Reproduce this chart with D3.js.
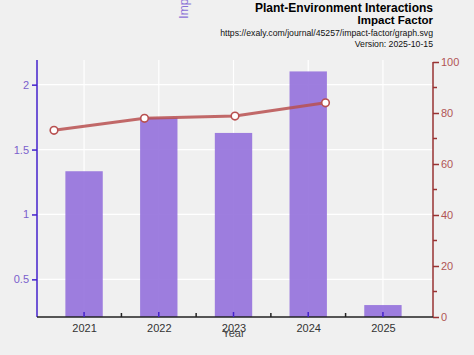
<!DOCTYPE html>
<html><head><meta charset="utf-8">
<script src="https://cdn.jsdelivr.net/npm/d3@7"></script>
<style>body{margin:0;background:#f0f0f0;}svg{display:block;font-family:"Liberation Sans",Arial,sans-serif;}</style>
</head><body>
<svg id="c" width="474" height="355"></svg>
<script>
const years = [2021, 2022, 2023, 2024, 2025];
const impactFactor = [1.333, 1.745, 1.628, 2.102, 0.302];
const lineYears = [2021, 2022, 2023, 2024];
const percentile = [73.2, 77.9, 78.8, 84.0];
const leftTicks = [0.5, 1, 1.5, 2];
const rightTicks = [0, 20, 40, 60, 80, 100];

const svg = d3.select("#c");
svg.append("rect").attr("width",474).attr("height",355).attr("fill","#f0f0f0");

const L=37, R=433, T=60, B=317;
const x = d3.scaleLinear().domain([2020.37, 2025.67]).range([L, R]);
const xLine = d3.scalePoint().domain([2021,2022,2023,2024,2025]).range([54, 416]);
const y = d3.scaleLinear().domain([0.21, 2.19]).range([B, T]);
const y2 = d3.scaleLinear().domain([0, 100]).range([B, 62]);

// grid
const g = svg.append("g");
g.selectAll(".hg").data(leftTicks).join("line")
  .attr("x1",L).attr("x2",R).attr("y1",d=>y(d)).attr("y2",d=>y(d))
  .attr("stroke","#ffffff").attr("stroke-width",1.2);
g.selectAll(".vg").data(years).join("line")
  .attr("x1",d=>x(d)).attr("x2",d=>x(d)).attr("y1",T).attr("y2",B)
  .attr("stroke","#ffffff").attr("stroke-width",1.2);

// bars
const bw = (x(2022)-x(2021))/2;
svg.selectAll(".bar").data(years).join("rect")
  .attr("x",(d)=>x(d)-bw/2).attr("width",bw)
  .attr("y",(d,i)=>y(impactFactor[i])).attr("height",(d,i)=>B-y(impactFactor[i]))
  .attr("fill","#9370db").attr("fill-opacity",0.9);

// line
const pts = lineYears.map((d,i)=>[xLine(d), y2(percentile[i])]);
svg.append("path").attr("d",d3.line()(pts)).attr("fill","none")
  .attr("stroke","#b85050").attr("stroke-opacity",0.85).attr("stroke-width",3);
svg.selectAll(".pt").data(pts).join("circle")
  .attr("cx",d=>d[0]).attr("cy",d=>d[1]).attr("r",3.8)
  .attr("fill","#fff").attr("stroke","#b85050").attr("stroke-width",1.6);

// left axis
const ga = svg.append("g").attr("transform",`translate(${L},0)`)
  .call(d3.axisLeft(y).tickValues(leftTicks).tickSize(5).tickPadding(3).tickFormat(d3.format("")));
ga.select(".domain").attr("stroke","#4422cc").attr("stroke-width",1.5).attr("d",`M0,${T}V${B}`);
ga.selectAll(".tick line").attr("stroke","#4422cc").attr("stroke-width",1.5);
ga.selectAll(".tick text").attr("fill","#7a5fcc").attr("font-size",11);

// right axis
const gr = svg.append("g").attr("transform",`translate(${R},0)`)
  .call(d3.axisRight(y2).tickValues(rightTicks).tickSize(6).tickPadding(2));
gr.select(".domain").attr("stroke","#993333").attr("stroke-width",1.5).attr("d",`M0,62V${B}`);
gr.selectAll(".tick line").attr("stroke","#993333").attr("stroke-width",1.5);
gr.selectAll(".tick text").attr("fill","#b05555").attr("font-size",11);
gr.selectAll(".minor").data([10,30,50,70,90]).join("line")
  .attr("x1",0).attr("x2",4).attr("y1",d=>y2(d)).attr("y2",d=>y2(d))
  .attr("stroke","#993333").attr("stroke-width",1.5);

// bottom axis
const gb = svg.append("g").attr("transform",`translate(0,${B})`)
  .call(d3.axisBottom(x).tickValues(years).tickSize(0).tickPadding(7).tickFormat(d3.format("d")));
gb.select(".domain").attr("stroke","#222").attr("stroke-width",1.5).attr("d",`M${L},0H${R}`);
gb.selectAll(".tick text").attr("fill","#333").attr("font-size",11);
gb.selectAll(".maj").data(years).join("line")
  .attr("x1",d=>x(d)).attr("x2",d=>x(d)).attr("y1",0).attr("y2",-5)
  .attr("stroke","#4422cc").attr("stroke-width",1.5);
gb.selectAll(".mn").data([2021.5,2022.5,2023.5,2024.5]).join("line")
  .attr("x1",d=>x(d)).attr("x2",d=>x(d)).attr("y1",0).attr("y2",-4)
  .attr("stroke","#222").attr("stroke-width",1.5);

// axis titles
svg.append("text").attr("x",x(2023)).attr("y",337).attr("text-anchor","middle")
  .attr("font-size",11).attr("fill","#444").text("Year");
svg.append("text").attr("transform","translate(188,-18) rotate(-90)").attr("text-anchor","middle")
  .attr("font-size",12).attr("fill","#8a70d6").text("Impact Factor");

// titles
svg.append("text").attr("x",433).attr("y",12).attr("text-anchor","end")
  .attr("font-size",12).attr("font-weight","bold").attr("fill","#000").text("Plant-Environment Interactions");
svg.append("text").attr("x",433).attr("y",24).attr("text-anchor","end")
  .attr("font-size",11.5).attr("font-weight","bold").attr("fill","#000").text("Impact Factor");
svg.append("text").attr("x",433).attr("y",36).attr("text-anchor","end")
  .attr("font-size",8.7).attr("fill","#111").text("https://exaly.com/journal/45257/impact-factor/graph.svg");
svg.append("text").attr("x",433).attr("y",47).attr("text-anchor","end")
  .attr("font-size",8.7).attr("fill","#111").text("Version: 2025-10-15");
</script>
</body></html>
